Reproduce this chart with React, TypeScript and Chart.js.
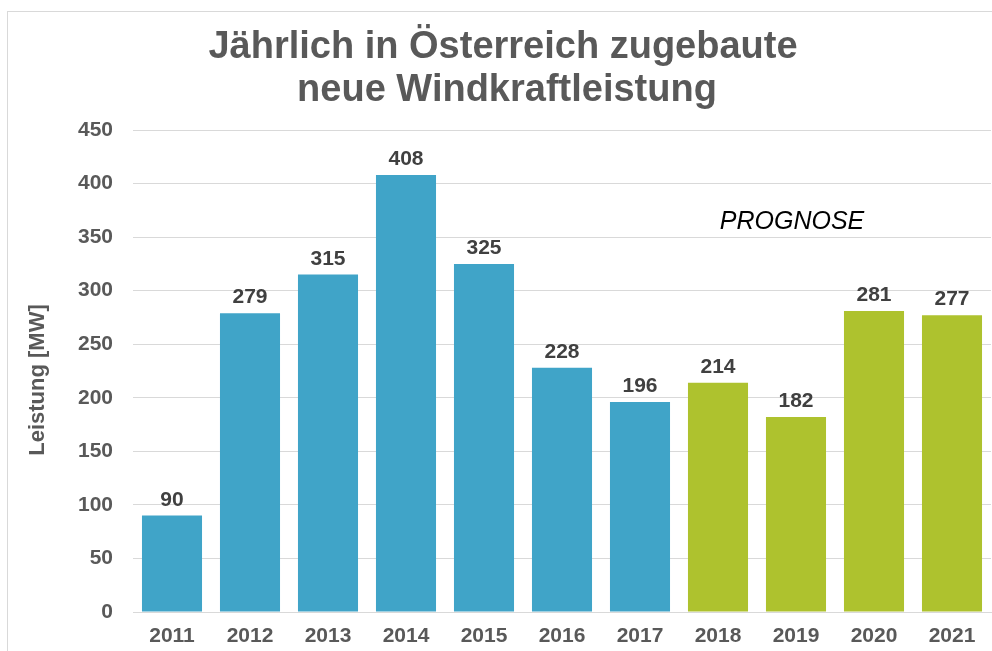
import React, { useEffect, useRef } from "react";
import { Chart, registerables } from "chart.js";

Chart.register(...registerables);

const YEARS = ["2011", "2012", "2013", "2014", "2015", "2016", "2017", "2018", "2019", "2020", "2021"];
const VALUES = [90, 279, 315, 408, 325, 228, 196, 214, 182, 281, 277];
const BLUE = "#40A4C8";
const GREEN = "#AEC22E";
const BAR_COLORS = [BLUE, BLUE, BLUE, BLUE, BLUE, BLUE, BLUE, GREEN, GREEN, GREEN, GREEN];
const TITLE_LINES = ["Jährlich in Österreich zugebaute", "neue Windkraftleistung"];
const Y_TITLE = "Leistung [MW]";
const NOTE = "PROGNOSE";
const Y_MIN = 0;
const Y_MAX = 450;
const Y_STEP = 50;

const FONT = "'Liberation Sans', Arial, sans-serif";

const overlayPlugin = {
  id: "overlay",
  afterDatasetsDraw(chart: any) {
    const ctx = chart.ctx;
    ctx.save();
    // title
    ctx.fillStyle = "#595959";
    ctx.font = `bold 38px ${FONT}`;
    ctx.textAlign = "center";
    ctx.textBaseline = "alphabetic";
    ctx.fillText(TITLE_LINES[0], 503, 58);
    ctx.fillText(TITLE_LINES[1], 507, 101);
    // y-axis title
    ctx.save();
    ctx.translate(38, 380);
    ctx.rotate(-Math.PI / 2);
    ctx.textBaseline = "middle";
    ctx.font = `bold 22px ${FONT}`;
    ctx.fillText(Y_TITLE, 0, 0);
    ctx.restore();
    // note
    ctx.fillStyle = "#000000";
    ctx.font = `italic 25px ${FONT}`;
    ctx.fillText(NOTE, 792, 229);
    // data labels
    ctx.fillStyle = "#404040";
    ctx.font = `bold 21px ${FONT}`;
    const meta = chart.getDatasetMeta(0);
    meta.data.forEach((bar: any, i: number) => {
      ctx.fillText(String(VALUES[i]), bar.x, bar.y - 10);
    });
    ctx.restore();
  },
};

export default function App() {
  const ref = useRef<HTMLCanvasElement | null>(null);
  useEffect(() => {
    if (!ref.current) return;
    const chart = new Chart(ref.current, {
      type: "bar",
      data: {
        labels: YEARS,
        datasets: [
          {
            data: VALUES,
            backgroundColor: BAR_COLORS,
            borderWidth: 0,
            categoryPercentage: 1,
            barPercentage: 0.77,
          },
        ],
      },
      options: {
        responsive: false,
        animation: false,
        layout: { padding: { left: 0, top: 130, right: 1, bottom: 0 } },
        plugins: {
          legend: { display: false },
          tooltip: { enabled: false },
          title: { display: false },
        },
        scales: {
          y: {
            min: Y_MIN,
            max: Y_MAX,
            ticks: {
              stepSize: Y_STEP,
              padding: 20,
              color: "#595959",
              font: { family: FONT, size: 21, weight: "bold" },
            },
            grid: { color: "#d9d9d9", drawTicks: false, lineWidth: 1 },
            border: { display: false },
            title: { display: false },
            afterFit: (s: any) => {
              s.width = 133;
            },
          },
          x: {
            grid: { display: false, drawTicks: false },
            border: { display: true, color: "#d9d9d9", width: 1 },
            ticks: {
              padding: 12,
              color: "#595959",
              font: { family: FONT, size: 21, weight: "bold" },
            },
            afterFit: (s: any) => {
              s.height = 39;
            },
          },
        },
      },
      plugins: [overlayPlugin],
    } as any);
    return () => chart.destroy();
  }, []);

  return (
    <div
      style={{
        position: "fixed",
        left: 0,
        top: 0,
        width: 992,
        height: 651,
        overflow: "hidden",
        background: "#ffffff",
      }}
    >
      <div
        style={{
          position: "absolute",
          left: 7,
          top: 11,
          width: 1100,
          height: 800,
          borderLeft: "1px solid #d9d9d9",
          borderTop: "1px solid #d9d9d9",
        }}
      />
      <canvas
        ref={ref}
        width={992}
        height={651}
        style={{ position: "absolute", left: 0, top: 0, width: 992, height: 651 }}
      />
    </div>
  );
}
